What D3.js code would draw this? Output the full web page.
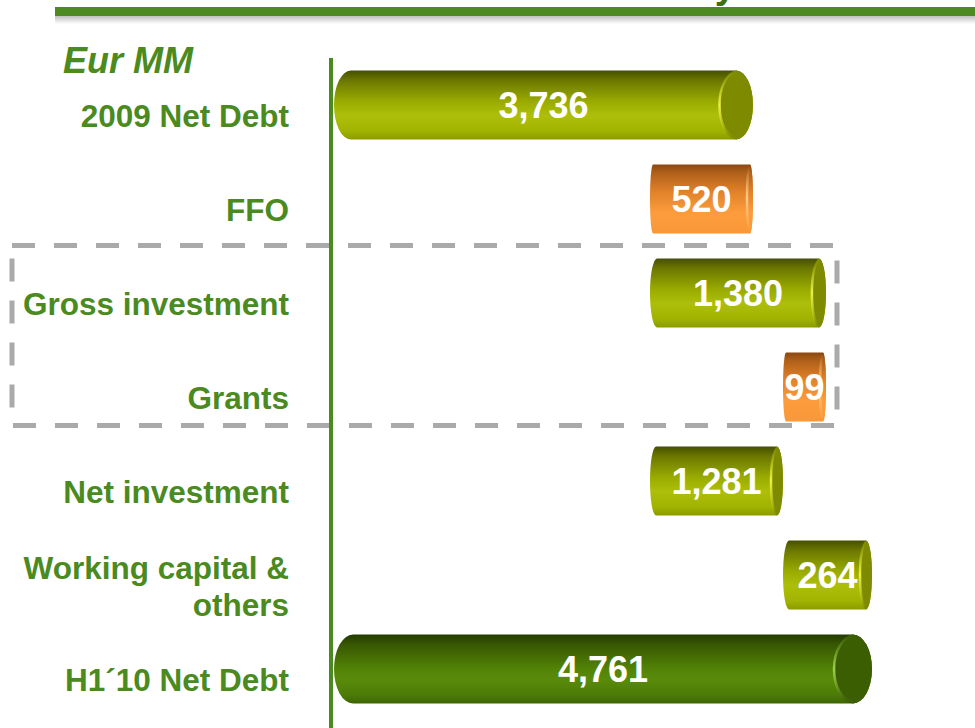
<!DOCTYPE html>
<html>
<head>
<meta charset="utf-8">
<script src="https://cdn.jsdelivr.net/npm/d3@7"></script>
<style>
  body { margin: 0; background: #fff; }
  text { font-family: "Liberation Sans", Arial, sans-serif; font-weight: bold; }
</style>
</head>
<body>
<div id="chart"></div>
<script>
// chart values
var categories = ["2009 Net Debt", "FFO", "Gross investment", "Grants",
                  "Net investment", "Working capital & others", "H1´10 Net Debt"];
var values = [3736, -520, 1380, -99, 1281, 264, 4761];
// total = from zero, step = from running total, group = restates the boxed block
var barTypes = ["total", "step", "step", "step", "group", "step", "total"];
var boxed = ["Gross investment", "Grants"];

var width = 975, height = 728;
var green = "#4a8a1e";

var svg = d3.select("#chart").append("svg")
    .attr("width", width)
    .attr("height", height);

var defs = svg.append("defs");

function vGrad(id, stops) {
  var g = defs.append("linearGradient").attr("id", id)
      .attr("x1", 0).attr("y1", 0).attr("x2", 0).attr("y2", 1);
  stops.forEach(function(s) {
    g.append("stop").attr("offset", s[0]).attr("stop-color", s[1])
     .attr("stop-opacity", s[2] === undefined ? 1 : s[2]);
  });
}
vGrad("olive", [[0, "#465000"], [0.15, "#6c7900"], [0.45, "#9aab00"], [0.65, "#adbf0a"], [0.88, "#a1b300"], [1, "#8b9a00"]]);
vGrad("dark", [[0, "#243a00"], [0.15, "#385802"], [0.5, "#538306"], [0.65, "#598b0a"], [0.88, "#4c7b06"], [1, "#3d6504"]]);
vGrad("orange", [[0, "#8a4810"], [0.12, "#b0601a"], [0.4, "#e2822a"], [0.7, "#fc9c3c"], [1, "#f89838"]]);
vGrad("oliveHi", [[0, "#e8f040", 0], [0.5, "#e8f040", 1], [1, "#e8f040", 0]]);
vGrad("darkHi", [[0, "#9ad048", 0], [0.5, "#9ad048", 1], [1, "#9ad048", 0]]);
vGrad("orangeHi", [[0, "#ffd090", 0], [0.5, "#ffd090", 0.9], [1, "#ffd090", 0]]);
vGrad("shadow", [[0, "#000", 0.28], [1, "#000", 0]]);

var palette = {
  olive: {body: "url(#olive)", cap: "#7e8a00", hi: "url(#oliveHi)"},
  dark: {body: "url(#dark)", cap: "#3b5e02", hi: "url(#darkHi)"},
  orange: {body: "url(#orange)", cap: "#c0661a", hi: "url(#orangeHi)"}
};

// header rule with a soft shadow and the clipped slide title
svg.append("rect").attr("x", 55).attr("y", 15).attr("width", width - 55).attr("height", 9)
    .attr("fill", "url(#shadow)");
svg.append("rect").attr("x", 55).attr("y", 7).attr("width", width - 55).attr("height", 9)
    .attr("fill", "#4e8a22");
svg.append("text").attr("x", 736).attr("y", -2).attr("text-anchor", "end")
    .attr("font-size", 38).attr("fill", "#3d7016").text("Net Debt Summary");

svg.append("text").attr("x", 63).attr("y", 73)
    .attr("font-size", 36).attr("font-style", "italic").attr("fill", green)
    .text("Eur MM");

// waterfall steps
var running = 0, groupBase = null;
var rows = categories.map(function(c, i) {
  var v = values[i], t = barTypes[i], start, end;
  if (t === "total") { start = 0; end = v; }
  else if (t === "group") { start = groupBase; end = groupBase + v; }
  else {
    if (boxed.indexOf(c) >= 0 && groupBase === null) groupBase = running;
    start = running; end = running + v;
  }
  running = end;
  var kind = v < 0 ? "orange" : (t === "total" && i === categories.length - 1 ? "dark" : "olive");
  return {name: c, value: v, lo: Math.min(start, end), hi: Math.max(start, end), kind: kind};
});

// the slide stretches the right-hand part of the axis so small steps stay legible
var xDomain = Array.from(new Set(rows.flatMap(function(d) { return [d.lo, d.hi]; }))).sort(d3.ascending);
var xStops = [334, 650, 753, 783, 826, 872];
var x = d3.scaleLinear().domain(xDomain).range(xStops);

var y = d3.scaleBand().domain(categories)
    .range([58, 716]).paddingInner(0.266).paddingOuter(0.133);

// dashed frame around the investment block
var boxTop = y(boxed[0]) - 13;
var boxBottom = y(boxed[boxed.length - 1]) + y.bandwidth() + 4;
var boxRight = d3.max(rows.filter(function(d) { return boxed.indexOf(d.name) >= 0; }),
    function(d) { return x(d.hi); }) + 11;
svg.append("rect")
    .attr("x", 12).attr("y", boxTop)
    .attr("width", boxRight - 12).attr("height", boxBottom - boxTop)
    .attr("fill", "none").attr("stroke", "#aaaaaa")
    .attr("stroke-width", 5).attr("stroke-dasharray", "23,19");

// category labels
var labels = svg.append("g").attr("text-anchor", "end").attr("fill", green).attr("font-size", 31.5);
rows.forEach(function(d) {
  var lines = d.name.replace("& ", "&\n").split("\n");
  var cy = y(d.name) + y.bandwidth() / 2;
  lines.forEach(function(line, k) {
    labels.append("text")
        .attr("x", 289)
        .attr("y", cy + 22 + (k - (lines.length - 1) / 2) * 37)
        .text(line);
  });
});

// axis line
svg.append("rect").attr("x", x(0) - 5).attr("y", 58).attr("width", 4).attr("height", height - 58)
    .attr("fill", green);

// cylinders
var bars = svg.append("g").selectAll("g").data(rows).enter().append("g");

bars.each(function(d) {
  var g = d3.select(this);
  var x0 = x(d.lo), x1 = x(d.hi), len = x1 - x0;
  var top = y(d.name), h = y.bandwidth(), ry = h / 2;
  var rx = d.kind === "orange" ? 3 : Math.max(6, Math.min(19, len * 0.04));
  var p = palette[d.kind];

  g.append("path")
      .attr("d", "M" + (x0 + rx) + "," + top +
                 "L" + (x1 - rx) + "," + top +
                 "A" + rx + "," + ry + " 0 0 1 " + (x1 - rx) + "," + (top + h) +
                 "L" + (x0 + rx) + "," + (top + h) +
                 "A" + rx + "," + ry + " 0 0 1 " + (x0 + rx) + "," + top + "Z")
      .attr("fill", p.body);

  g.append("ellipse")
      .attr("cx", x1 - rx).attr("cy", top + ry)
      .attr("rx", rx).attr("ry", ry)
      .attr("fill", d.kind === "orange" ? p.body : p.cap);

  g.append("path")
      .attr("d", "M" + (x1 - rx) + "," + (top + 2) +
                 "A" + rx + "," + (ry - 2) + " 0 0 0 " + (x1 - rx) + "," + (top + h - 2))
      .attr("fill", "none").attr("stroke", p.hi).attr("stroke-width", 2.5);

  g.append("text")
      .attr("x", (x0 + x1) / 2).attr("y", top + ry)
      .attr("dy", "0.37em")
      .attr("text-anchor", "middle")
      .attr("font-size", 36).attr("fill", "#fff")
      .text(d3.format(",")(Math.abs(d.value)));
});
</script>
</body>
</html>
